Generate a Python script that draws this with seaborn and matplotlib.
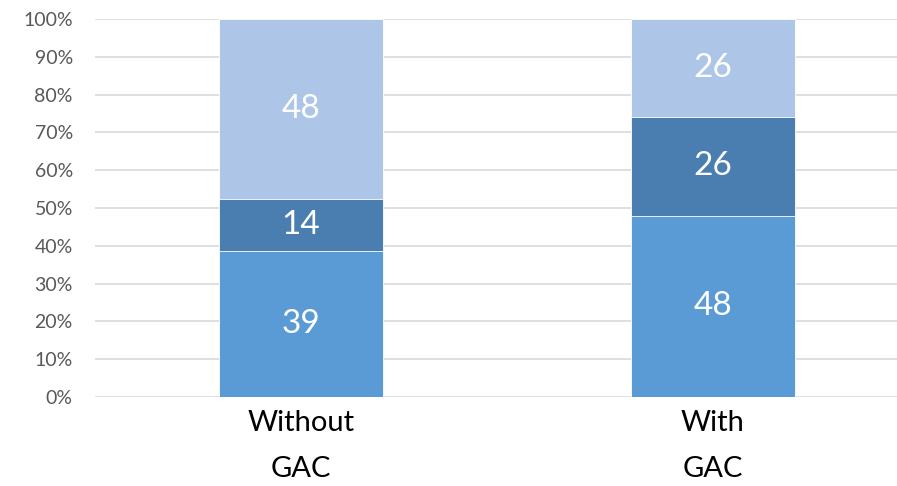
import seaborn as sns
import pandas as pd
import numpy as np
import matplotlib.pyplot as plt

sns.set_theme(style='white')
plt.rcParams['font.family'] = ['Lato', 'DejaVu Sans']

# data
categories = ['Without\nGAC', 'With\nGAC']
bottom_vals = [39, 48]
middle_vals = [14, 26]
top_vals = [48, 26]
colors = ['#5B9BD5', '#4A7EB0', '#ADC5E6']

df = pd.DataFrame({'cat': categories, 'bottom': bottom_vals,
                   'middle': middle_vals, 'top': top_vals})
totals = df[['bottom', 'middle', 'top']].sum(axis=1)
for c in ['bottom', 'middle', 'top']:
    df[c + '_pct'] = df[c] / totals * 100
df['cum1'] = df['bottom_pct']
df['cum2'] = df['cum1'] + df['middle_pct']
df['cum3'] = df['cum2'] + df['top_pct']

fig = plt.figure(figsize=(8.97, 4.86), dpi=100)
ax = fig.add_axes([0.106, 0.183, 0.894, 0.778])

# stacked bars: draw tallest first, then cover with the lower segments
for col, color in zip(['cum3', 'cum2', 'cum1'], colors[::-1]):
    sns.barplot(data=df, x='cat', y=col, color=color, width=0.4,
                saturation=1, ax=ax, zorder=3, edgecolor='white', linewidth=0.6)

# value labels in the middle of each segment
for i, row in df.iterrows():
    lows = [0, row['cum1'], row['cum2']]
    highs = [row['cum1'], row['cum2'], row['cum3']]
    for lo, hi, v in zip(lows, highs, [row['bottom'], row['middle'], row['top']]):
        ax.text(i, (lo + hi) / 2, str(v), ha='center', va='center',
                color='white', fontsize=24, zorder=4)

ax.set_ylim(0, 100)
ax.set_xlim(-0.5, 1.447)
ax.set_yticks(np.arange(0, 101, 10))
ax.set_yticklabels([f'{t}%' for t in range(0, 101, 10)], color='#595959', fontsize=14)
ax.set_xticklabels(categories, fontsize=21, color='black', linespacing=1.95)
ax.tick_params(axis='both', length=0)
ax.tick_params(axis='x', pad=9)
ax.tick_params(axis='y', pad=16)
ax.set_xlabel('')
ax.set_ylabel('')
ax.yaxis.grid(True, color='#D9D9D9', linewidth=1.2, zorder=0)
ax.set_axisbelow(True)
for s in ax.spines.values():
    s.set_visible(False)

plt.savefig('out.png', dpi=100)
